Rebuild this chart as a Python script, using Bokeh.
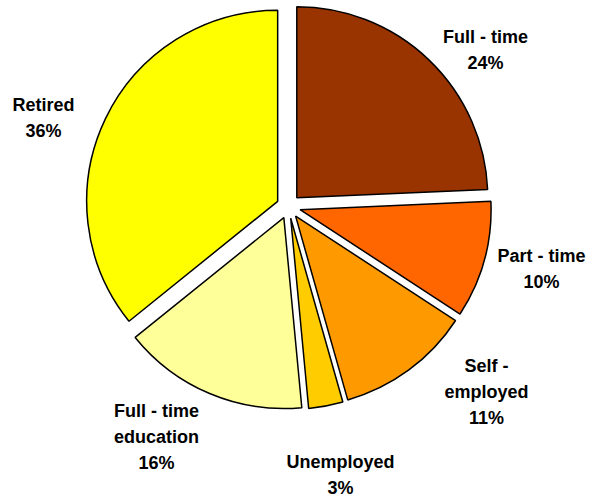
import numpy as np
from bokeh.plotting import figure
from bokeh.models import ColumnDataSource, Range1d
from bokeh.core.properties import value
from bokeh.embed import file_html
from bokeh.resources import INLINE

# ---- data ----
categories = ["Full - time", "Part - time", "Self -\nemployed", "Unemployed",
              "Full - time\neducation", "Retired"]
shares = [24.3, 9.9, 11.4, 2.9, 15.7, 35.8]          # percent (slice sizes)
colors = ["#993300", "#FF6600", "#FF9900", "#FFCC00", "#FFFF99", "#FFFF00"]

# ---- layout ----
W, H = 592, 497
CX, CY = 288, 497 - 206      # pie centre (data coords)
R = 191                      # radius
EXPLODE = 12                 # explode distance
label_pos = [(485, 49), (541, 268.5), (486, 391), (340, 474), (156, 436), (43, 117)]  # image coords

frac = np.array(shares, dtype=float) / sum(shares)
cum = np.concatenate([[0.0], np.cumsum(frac)])
start = np.pi / 2 - cum[:-1] * 2 * np.pi
end = np.pi / 2 - cum[1:] * 2 * np.pi
mid = (start + end) / 2
xs = CX + EXPLODE * np.cos(mid)
ys = CY + EXPLODE * np.sin(mid)

src = ColumnDataSource(dict(x=xs, y=ys, start=start, end=end, color=colors))

p = figure(width=W, height=H, x_range=Range1d(0, W), y_range=Range1d(0, H),
           output_backend="svg", toolbar_location=None, min_border=0)
p.axis.visible = False
p.grid.visible = False
p.outline_line_color = None
p.background_fill_color = "white"
p.border_fill_color = "white"

p.wedge(x="x", y="y", radius=R, start_angle="start", end_angle="end", direction="clock",
        fill_color="color", line_color="black", line_width=1.5, source=src)

labels = [f"{c}\n{round(v)}%" for c, v in zip(categories, shares)]
lsrc = ColumnDataSource(dict(x=[lp[0] for lp in label_pos],
                             y=[497 - lp[1] for lp in label_pos],
                             text=labels))
p.text(x="x", y="y", text="text", source=lsrc, text_font=value("Liberation Sans"),
       text_font_style="bold", text_font_size="18px", text_align="center",
       text_baseline="middle", text_line_height=1.3, text_color="black")

open("out.html", "w").write(file_html(p, INLINE))
